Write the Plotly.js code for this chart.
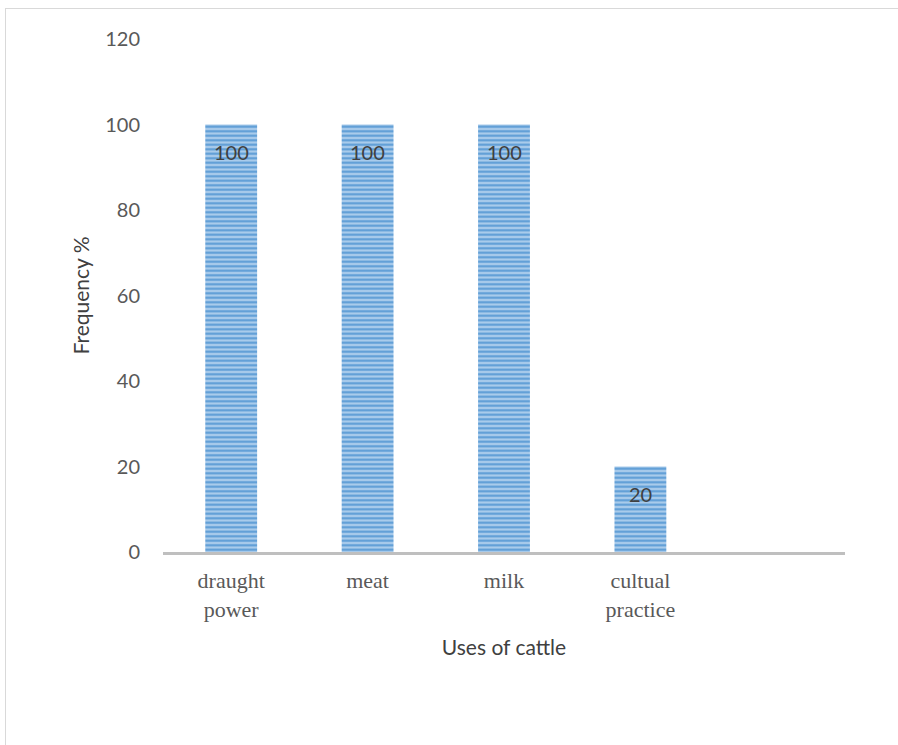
<!DOCTYPE html>
<html>
<head>
<meta charset="utf-8">
<script src="https://cdn.plot.ly/plotly-3.0.1.min.js"></script>
<style>
  html, body { margin: 0; padding: 0; background: #fff; }
  #frame { position: absolute; left: 5px; top: 8px; width: 1000px; height: 1000px; border-left: 1.5px solid #d9d9d9; border-top: 1.5px solid #d9d9d9; pointer-events: none; }
  #chart { position: absolute; left: 0; top: 0; width: 898px; height: 745px; }
</style>
</head>
<body>
<div id="chart"></div>
<div id="frame"></div>
<script>
const categories = ["draught<br>power", "meat", "milk", "cultual<br>practice"];
const values = [100, 100, 100, 20];
const labels = ["100", "100", "100", "20"];
const yTicks = [0, 20, 40, 60, 80, 100, 120];

const trace = {
  type: "bar",
  x: categories,
  y: values,
  marker: {
    color: "#a9cbeb",
    line: { width: 0 },
    pattern: { shape: "-", fgcolor: "#5b9bd5", bgcolor: "#a9cbeb", size: 4.5, solidity: 0.45 }
  },
  hoverinfo: "none",
  showlegend: false
};

const annotations = categories.map((c, i) => ({
  x: c, y: values[i], xref: "x", yref: "y",
  text: labels[i], showarrow: false, yanchor: "middle", yshift: -27,
  font: { family: "Lato, 'Open Sans', sans-serif", size: 20, color: "#404040" }
}));

const layout = {
  width: 898, height: 745,
  margin: { l: 163, r: 53, t: 39, b: 193 },
  paper_bgcolor: "rgba(0,0,0,0)",
  plot_bgcolor: "rgba(0,0,0,0)",
  bargap: 0.62,
  xaxis: {
    type: "category",
    range: [-0.5, 4.5],
    showline: true, linecolor: "#bfbfbf", linewidth: 2.5,
    showgrid: false, zeroline: false, ticks: "",
    ticklabelstandoff: 7,
    tickfont: { family: "'Liberation Serif', 'Times New Roman', serif", size: 22, color: "#595959" },
    title: { text: "Uses of cattle", standoff: 20, font: { family: "Lato, 'Open Sans', sans-serif", size: 21, color: "#404040" } }
  },
  yaxis: {
    range: [0, 120],
    tickvals: yTicks,
    ticktext: yTicks.map(String),
    showline: false, showgrid: false, zeroline: false, ticks: "",
    ticklabelstandoff: 22,
    tickfont: { family: "Lato, 'Open Sans', sans-serif", size: 20, color: "#595959" },
    title: { text: "Frequency %", standoff: 9, font: { family: "Lato, 'Open Sans', sans-serif", size: 21, color: "#404040" } }
  },
  annotations: annotations
};

Plotly.newPlot("chart", [trace], layout, { staticPlot: true, displayModeBar: false });
</script>
</body>
</html>
